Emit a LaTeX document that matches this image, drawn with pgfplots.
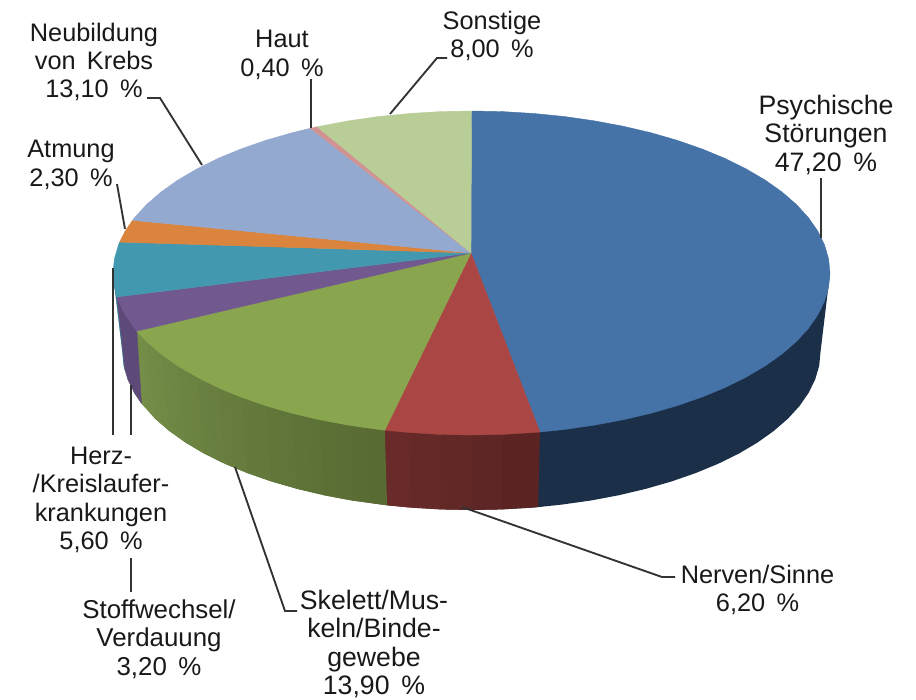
\documentclass[border=0pt]{standalone}
\usepackage{pgfplots}
\pgfplotsset{compat=1.18}
\usepackage{fontspec}
\setmainfont{Liberation Sans}
\definecolor{cblue}{HTML}{4572A7}
\definecolor{cred}{HTML}{AA4643}
\definecolor{cgreen}{HTML}{89A54E}
\definecolor{cpurple}{HTML}{71588F}
\definecolor{cteal}{HTML}{4198AF}
\definecolor{corange}{HTML}{DB843D}
\definecolor{clblue}{HTML}{93A9CF}
\definecolor{cpink}{HTML}{D19392}
\definecolor{clgreen}{HTML}{B9CD96}
\definecolor{sblue}{HTML}{1C2F49}
\definecolor{sredL}{HTML}{682B29}
\definecolor{sredR}{HTML}{5B2423}
\definecolor{sgreenL}{HTML}{748E48}
\definecolor{sgreenR}{HTML}{586B33}
\definecolor{spurple}{HTML}{5E4A78}
\definecolor{steal}{HTML}{357F93}
\definecolor{leader}{HTML}{333333}
\tikzset{
  slice/.style={fill=#1, draw=#1, line width=0.3pt},
  band/.style={fill=#1, draw=none},
  leadline/.style={draw=leader, line width=1.4pt},
  lab/.style={align=center, inner sep=0pt, text=black!90, font=\fontsize{19}{21.3}\selectfont},
  labw/.style={font=\fontsize{#1}{21.3}\selectfont},
}
\begin{document}
\begin{tikzpicture}
\begin{axis}[
  scale only axis, width=687pt, height=524.25pt,
  xmin=0, xmax=916, ymin=0, ymax=699, y dir=reverse,
  hide axis, clip=false,
]
\addplot[draw=none] coordinates {(0,0) (916,699)};
% side walls, right to left, each band runs under the next one
\addplot[band=sblue] coordinates {(830,273) (820.5,352) (819.2,365.8) (815.2,379.4) (808.6,392.9) (799.5,406) (787.8,418.8) (773.7,431) (757.4,442.6) (738.8,453.6) (718.3,463.7) (695.8,473) (671.7,481.4) (646,488.8) (619,495.2) (590.9,500.5) (561.8,504.6) (538.1,507.1) (532.1,507.6) (501.9,509.4) (502.8,434.4)} --cycle;
\addplot[band=sredR] coordinates {(539.9,432) (471.5,435) (471.5,510) (501.9,509.4) (532.1,507.6) (538.1,507.1)} --cycle;
\addplot[band=sredR!75!sredL] coordinates {(502.8,434.4) (440.2,434.4) (441.1,509.4) (471.5,510) (501.9,509.4)} --cycle;
\addplot[band=sredR!50!sredL] coordinates {(471.5,435) (409.3,432.5) (410.9,507.6) (441.1,509.4) (471.5,510)} --cycle;
\addplot[band=sredR!25!sredL] coordinates {(440.2,434.4) (384.8,430.2) (387.1,505.3) (410.9,507.6) (441.1,509.4)} --cycle;
\addplot[band=sredL] coordinates {(409.3,432.5) (366.9,427.7) (369.6,502.9) (387.1,505.3) (410.9,507.6)} --cycle;
\addplot[band=sgreenR] coordinates {(384.8,430.2) (348.9,425.2) (352.1,500.5) (369.6,502.9) (387.1,505.3)} --cycle;
\addplot[band=sgreenL!5!sgreenR] coordinates {(366.9,427.7) (334.5,422.5) (338,497.9) (352.1,500.5) (369.6,502.9)} --cycle;
\addplot[band=sgreenL!10!sgreenR] coordinates {(348.9,425.2) (320,419.8) (324,495.2) (338,497.9) (352.1,500.5)} --cycle;
\addplot[band=sgreenL!14!sgreenR] coordinates {(334.5,422.5) (306.1,416.6) (310.5,492) (324,495.2) (338,497.9)} --cycle;
\addplot[band=sgreenL!19!sgreenR] coordinates {(320,419.8) (292.2,413.3) (297,488.8) (310.5,492) (324,495.2)} --cycle;
\addplot[band=sgreenL!24!sgreenR] coordinates {(306.1,416.6) (279,409.5) (284.2,485.1) (297,488.8) (310.5,492)} --cycle;
\addplot[band=sgreenL!29!sgreenR] coordinates {(292.2,413.3) (265.9,405.7) (271.3,481.4) (284.2,485.1) (297,488.8)} --cycle;
\addplot[band=sgreenL!33!sgreenR] coordinates {(279,409.5) (253.5,401.4) (259.2,477.2) (271.3,481.4) (284.2,485.1)} --cycle;
\addplot[band=sgreenL!38!sgreenR] coordinates {(265.9,405.7) (241.1,397.1) (247.2,473) (259.2,477.2) (271.3,481.4)} --cycle;
\addplot[band=sgreenL!43!sgreenR] coordinates {(253.5,401.4) (229.5,392.4) (236,468.4) (247.2,473) (259.2,477.2)} --cycle;
\addplot[band=sgreenL!48!sgreenR] coordinates {(241.1,397.1) (218,387.6) (224.7,463.7) (236,468.4) (247.2,473)} --cycle;
\addplot[band=sgreenL!52!sgreenR] coordinates {(229.5,392.4) (207.5,382.4) (214.5,458.7) (224.7,463.7) (236,468.4)} --cycle;
\addplot[band=sgreenL!57!sgreenR] coordinates {(218,387.6) (196.9,377.1) (204.2,453.6) (214.5,458.7) (224.7,463.7)} --cycle;
\addplot[band=sgreenL!62!sgreenR] coordinates {(207.5,382.4) (187.4,371.5) (194.9,448.1) (204.2,453.6) (214.5,458.7)} --cycle;
\addplot[band=sgreenL!67!sgreenR] coordinates {(196.9,377.1) (177.8,365.9) (185.6,442.6) (194.9,448.1) (204.2,453.6)} --cycle;
\addplot[band=sgreenL!71!sgreenR] coordinates {(187.4,371.5) (169.4,360) (177.5,436.8) (185.6,442.6) (194.9,448.1)} --cycle;
\addplot[band=sgreenL!76!sgreenR] coordinates {(177.8,365.9) (161,354) (169.3,431) (177.5,436.8) (185.6,442.6)} --cycle;
\addplot[band=sgreenL!81!sgreenR] coordinates {(169.4,360) (153.8,347.8) (162.3,424.9) (169.3,431) (177.5,436.8)} --cycle;
\addplot[band=sgreenL!86!sgreenR] coordinates {(161,354) (146.6,341.5) (155.2,418.8) (162.3,424.9) (169.3,431)} --cycle;
\addplot[band=sgreenL!90!sgreenR] coordinates {(153.8,347.8) (141.7,336.3) (148.4,411.1) (155.2,418.8) (162.3,424.9)} --cycle;
\addplot[band=sgreenL!95!sgreenR] coordinates {(146.6,341.5) (136.8,331.1) (141.5,403.4) (148.4,411.1) (155.2,418.8)} --cycle;
\addplot[band=sgreenL] coordinates {(141.7,336.3) (136.8,331.1) (134.4,392.9) (141.5,403.4) (148.4,411.1)} --cycle;
\addplot[slice=steal] coordinates {(116.9,296.9) (113,273) (122.5,352) (123.8,365.8) (125,370)} --cycle;
\addplot[slice=spurple] coordinates {(136.8,331.1) (116.9,296.9) (125,370) (127.8,379.4) (134.4,392.9) (141.5,403.4)} --cycle;
% top face
\addplot[slice=cblue] coordinates {(471,253) (471.5,111) (502.8,111.6) (533.7,113.5) (564.3,116.5) (594.1,120.8) (623,126.2) (650.8,132.7) (677.1,140.3) (701.9,148.9) (725,158.4) (746.1,168.9) (765.2,180.1) (782,192) (796.4,204.5) (808.4,217.6) (817.8,231.1) (824.5,244.9) (828.6,258.9) (830,273) (828.6,287.1) (824.5,301.1) (817.8,314.9) (808.4,328.4) (796.4,341.5) (782,354) (765.2,365.9) (746.1,377.1) (725,387.6) (701.9,397.1) (677.1,405.7) (650.8,413.3) (623,419.8) (594.1,425.2) (564.3,429.5) (539.9,432)} --cycle;
\addplot[slice=cred] coordinates {(471,253) (539.9,432) (533.7,432.5) (502.8,434.4) (471.5,435) (440.2,434.4) (409.3,432.5) (384.8,430.2)} --cycle;
\addplot[slice=cgreen] coordinates {(471,253) (384.8,430.2) (378.7,429.5) (348.9,425.2) (320,419.8) (292.2,413.3) (265.9,405.7) (241.1,397.1) (218,387.6) (196.9,377.1) (177.8,365.9) (161,354) (146.6,341.5) (136.8,331.1)} --cycle;
\addplot[slice=cpurple] coordinates {(471,253) (136.8,331.1) (134.6,328.4) (125.2,314.9) (118.5,301.1) (116.9,296.9)} --cycle;
\addplot[slice=cteal] coordinates {(471,253) (116.9,296.9) (114.4,287.1) (113,273) (114.4,258.9) (118.5,244.9) (119.6,242.1)} --cycle;
\addplot[slice=corange] coordinates {(471,253) (119.6,242.1) (125.2,231.1) (132.5,220.3)} --cycle;
\addplot[slice=clblue] coordinates {(471,253) (132.5,220.3) (134.6,217.6) (146.6,204.5) (161,192) (177.8,180.1) (196.9,168.9) (218,158.4) (241.1,148.9) (265.9,140.3) (292.2,132.7) (310.4,128.3)} --cycle;
\addplot[slice=cpink] coordinates {(471,253) (310.4,128.3) (317.2,126.8)} --cycle;
\addplot[slice=clgreen] coordinates {(471,253) (317.2,126.8) (320,126.2) (348.9,120.8) (378.7,116.5) (409.3,113.5) (440.2,111.6) (471.5,111)} --cycle;
% leader lines
\addplot[leadline] coordinates {(821,178) (821,238)};
\addplot[leadline] coordinates {(390,114) (437,58) (447,58)};
\addplot[leadline] coordinates {(311,128) (311,79)};
\addplot[leadline] coordinates {(147,98) (160,98) (202,165)};
\addplot[leadline] coordinates {(117,184) (125,229)};
\addplot[leadline] coordinates {(113,268) (113,435)};
\addplot[leadline] coordinates {(131,385) (131,435)};
\addplot[leadline] coordinates {(131,558) (131,592)};
\addplot[leadline] coordinates {(235,467) (285,611) (297,611)};
\addplot[leadline] coordinates {(462,507) (662,577) (675,577)};
% labels
\node[lab,labw=20] at (axis cs:826,135) {Psychische\\Störungen\\47,20~\,\%};
\node[lab] at (axis cs:492,36) {Sonstige\\8,00~\,\%};
\node[lab] at (axis cs:282,55) {Haut\\0,40~\,\%};
\node[lab] at (axis cs:94,62) {Neubildung\\von~\,Krebs\\13,10~\,\%};
\node[lab] at (axis cs:71,165) {Atmung\\2,30~\,\%};
\node[lab] at (axis cs:101,500) {Herz-\\/Kreislaufer-\\krankungen\\5,60~\,\%};
\node[lab,labw=19.4] at (axis cs:159,639) {Stoffwechsel/\\Verdauung\\3,20~\,\%};
\node[lab,labw=20] at (axis cs:374,644) {Skelett/Mus-\\keln/Binde-\\gewebe\\13,90~\,\%};
\node[lab] at (axis cs:757.5,590) {Nerven/Sinne\\6,20~\,\%};
\end{axis}
\end{tikzpicture}
\end{document}
